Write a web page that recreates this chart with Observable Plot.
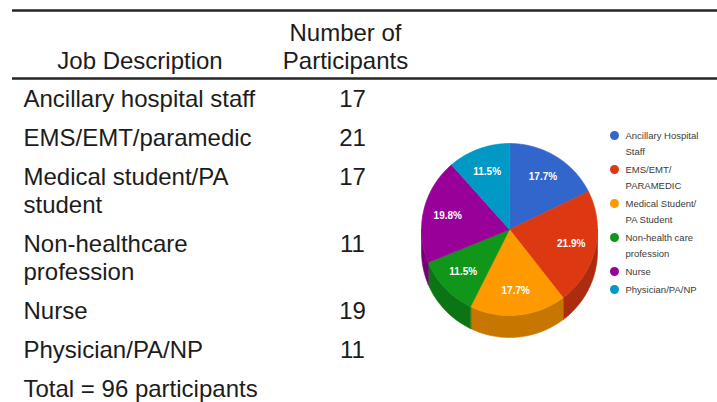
<!DOCTYPE html>
<html>
<head>
<meta charset="utf-8">
<script src="https://cdn.jsdelivr.net/npm/d3@7"></script>
<script src="https://cdn.jsdelivr.net/npm/@observablehq/plot@0.6"></script>
<style>
  html, body { margin: 0; padding: 0; background: #fff; }
  #chart svg { display: block; }
</style>
</head>
<body>
<div id="chart"></div>
<script>
// ---- data ----
const headerJob = "Job Description";
const headerCount = ["Number of", "Participants"];
const jobLines = [
  ["Ancillary hospital staff"],
  ["EMS/EMT/paramedic"],
  ["Medical student/PA", "student"],
  ["Non-healthcare", "profession"],
  ["Nurse"],
  ["Physician/PA/NP"]
];
const counts = [17, 21, 17, 11, 19, 11];
const totalLabel = "Total = 96 participants";
const legendLines = [
  ["Ancillary Hospital", "Staff"],
  ["EMS/EMT/", "PARAMEDIC"],
  ["Medical Student/", "PA Student"],
  ["Non-health care", "profession"],
  ["Nurse"],
  ["Physician/PA/NP"]
];
const sliceColors = ["#3366cc", "#dc3912", "#ff9900", "#109618", "#990099", "#0099c6"];

// ---- layout ----
const W = 717, H = 402;
const tableFont = 24, tableLine = 28, rowGap = 39, firstBaseline = 106;
const textX = 23, countX = 352, jobHeadX = 139.5, countHeadX = 345;
const pie = {cx: 509, cy: 229, rx: 88, ry: 86, depth: 22, labelR: 0.72};
const legend = {x: 614, textX: 625, y0: 135, line: 16, gap: 2};

// table text rows
const tableText = [];
const countText = [];
let yb = firstBaseline;
jobLines.forEach((lines, i) => {
  countText.push({x: countX, y: yb, t: String(counts[i])});
  lines.forEach((l, j) => tableText.push({x: textX, y: yb + j * tableLine, t: l}));
  yb += rowGap + (lines.length - 1) * tableLine;
});
tableText.push({x: textX, y: yb, t: totalLabel});
const headerText = [
  {x: jobHeadX, y: 68, t: headerJob},
  {x: countHeadX, y: 40, t: headerCount[0]},
  {x: countHeadX, y: 68, t: headerCount[1]}
];
const rules = [{y: 10}, {y: 78}];

// pie geometry from counts
const total = d3.sum(counts);
const fmt = d3.format(".1f");
const pt = (deg, dy = 0) => {
  const a = deg * Math.PI / 180;
  return {x: pie.cx + pie.rx * Math.sin(a), y: pie.cy - pie.ry * Math.cos(a) + dy};
};
const arcPts = (a0, a1, dy = 0) => {
  const n = Math.max(2, Math.ceil((a1 - a0) / 1));
  return d3.range(n + 1).map(k => pt(a0 + (a1 - a0) * k / n, dy));
};
const topPts = [], sidePts = [], labels = [];
let acc = 0;
counts.forEach((c, i) => {
  const a0 = acc / total * 360, a1 = (acc + c) / total * 360;
  acc += c;
  const col = sliceColors[i];
  // side wall (front half only: 90..270)
  const s0 = Math.max(a0, 90), s1 = Math.min(a1, 270);
  if (s1 > s0) {
    const upper = arcPts(s0, s1, 0);
    const lower = arcPts(s0, s1, pie.depth).reverse();
    const dark = d3.color(col).darker(0.7).formatHex();
    [...upper, ...lower].forEach(p => sidePts.push({...p, key: "s" + i, fill: dark}));
  }
  const poly = [{x: pie.cx, y: pie.cy}, ...arcPts(a0, a1, 0)];
  poly.forEach(p => topPts.push({...p, key: "t" + i, fill: col}));
  const mid = (a0 + a1) / 2 * Math.PI / 180;
  labels.push({
    x: pie.cx + pie.rx * pie.labelR * Math.sin(mid),
    y: pie.cy - pie.ry * pie.labelR * Math.cos(mid),
    t: fmt(c / total * 100) + "%"
  });
});

// legend
const legendDots = [], legendText = [];
let ly = legend.y0;
legendLines.forEach((lines, i) => {
  legendDots.push({x: legend.x, y: ly, fill: sliceColors[i]});
  lines.forEach((l, j) => legendText.push({x: legend.textX, y: ly + 3.5 + j * legend.line, t: l}));
  ly += lines.length * legend.line + legend.gap;
});

const font = "'Liberation Sans', Arial, Helvetica, sans-serif";

const chart = Plot.plot({
  width: W,
  height: H,
  margin: 0,
  x: {domain: [0, W], range: [0, W], axis: null},
  y: {domain: [0, H], range: [0, H], axis: null},
  color: {type: "identity"},
  style: {background: "#fff", fontFamily: font},
  marks: [
    Plot.ruleY(rules, {y: "y", x1: 12, x2: W, stroke: "#262626", strokeWidth: 2.3}),
    Plot.text(headerText, {x: "x", y: "y", text: "t", textAnchor: "middle", lineAnchor: "bottom",
      fontSize: tableFont, fill: "#1c1c1c", fontFamily: font}),
    Plot.text(tableText, {x: "x", y: "y", text: "t", textAnchor: "start", lineAnchor: "bottom",
      fontSize: tableFont, fill: "#1c1c1c", fontFamily: font}),
    Plot.text(countText, {x: "x", y: "y", text: "t", textAnchor: "middle", lineAnchor: "bottom",
      fontSize: tableFont, fill: "#1c1c1c", fontFamily: font}),
    Plot.line(sidePts, {x: "x", y: "y", z: "key", fill: "fill", stroke: "fill", strokeWidth: 0.6, curve: "linear-closed"}),
    Plot.line(topPts, {x: "x", y: "y", z: "key", fill: "fill", stroke: "fill", strokeWidth: 0.6, curve: "linear-closed"}),
    Plot.text(labels, {x: "x", y: "y", text: "t", fill: "#fff", fontSize: 10, fontWeight: "bold",
      textAnchor: "middle", fontFamily: font}),
    Plot.dot(legendDots, {x: "x", y: "y", r: 4.5, fill: "fill", stroke: null}),
    Plot.text(legendText, {x: "x", y: "y", text: "t", textAnchor: "start", lineAnchor: "bottom",
      fontSize: 9.5, fill: "#3a3a3a", fontFamily: font})
  ]
});
document.getElementById("chart").appendChild(chart);
</script>
</body>
</html>
